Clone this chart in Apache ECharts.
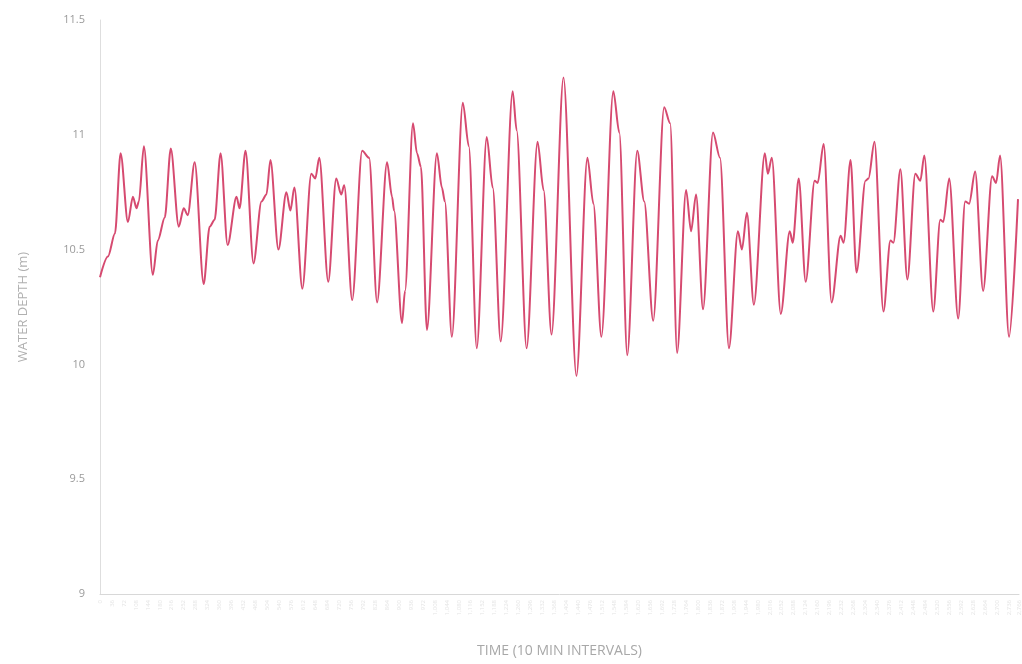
<!DOCTYPE html>
<html>
<head>
<meta charset="utf-8">
<title>Water depth</title>
<script src="https://cdn.jsdelivr.net/npm/echarts@6/dist/echarts.min.js"></script>
<style>
  html, body { margin: 0; padding: 0; background: #ffffff; }
  #chart { width: 1022px; height: 664px; }
</style>
</head>
<body>
<div id="chart"></div>
<script>
// Sample index (10-minute intervals) of each recorded turning point
const intervalIndex = [
  0, 24, 45, 62, 84, 99, 110, 117, 132, 159, 174, 195, 213, 237, 252, 264, 285, 312, 330, 345,
  363, 384, 411, 420, 438, 462, 486, 501, 513, 537, 561, 573, 585, 609, 636, 648, 660, 687, 711, 726,
  735, 759, 789, 810, 834, 864, 879, 885, 909, 918, 942, 954, 966, 984, 1014, 1029, 1038, 1059, 1092, 1110,
  1134, 1164, 1182, 1206, 1242, 1254, 1284, 1317, 1335, 1359, 1395, 1434, 1467, 1485, 1509, 1545, 1563, 1587, 1617, 1638,
  1665, 1698, 1716, 1737, 1764, 1779, 1794, 1815, 1845, 1866, 1893, 1920, 1932, 1947, 1968, 2001, 2010, 2022, 2049, 2076,
  2085, 2103, 2124, 2151, 2160, 2178, 2202, 2229, 2238, 2259, 2277, 2304, 2313, 2331, 2358, 2379, 2388, 2409, 2430, 2454,
  2469, 2481, 2508, 2529, 2538, 2556, 2583, 2604, 2616, 2634, 2658, 2685, 2697, 2709, 2736, 2763
];

// Water depth in metres at each of those samples
const waterDepth = [
  10.38, 10.47, 10.57, 10.92, 10.62, 10.73, 10.68, 10.71, 10.95, 10.39, 10.54, 10.64, 10.94, 10.60, 10.68, 10.65, 10.88, 10.35, 10.60, 10.63,
  10.92, 10.52, 10.73, 10.68, 10.93, 10.44, 10.71, 10.74, 10.89, 10.50, 10.75, 10.67, 10.77, 10.33, 10.83, 10.81, 10.90, 10.36, 10.81, 10.74,
  10.78, 10.28, 10.93, 10.90, 10.27, 10.88, 10.73, 10.67, 10.18, 10.32, 11.05, 10.92, 10.86, 10.15, 10.92, 10.77, 10.71, 10.12, 11.14, 10.95,
  10.07, 10.99, 10.77, 10.10, 11.19, 11.02, 10.07, 10.97, 10.76, 10.13, 11.25, 9.95, 10.90, 10.70, 10.12, 11.19, 11.01, 10.04, 10.93, 10.71,
  10.19, 11.12, 11.05, 10.05, 10.76, 10.58, 10.74, 10.24, 11.01, 10.90, 10.07, 10.58, 10.50, 10.66, 10.26, 10.92, 10.83, 10.90, 10.22, 10.58,
  10.53, 10.81, 10.36, 10.80, 10.79, 10.96, 10.27, 10.56, 10.53, 10.89, 10.40, 10.80, 10.81, 10.97, 10.23, 10.54, 10.53, 10.85, 10.37, 10.83,
  10.80, 10.91, 10.23, 10.63, 10.62, 10.81, 10.20, 10.71, 10.70, 10.84, 10.32, 10.82, 10.79, 10.91, 10.12, 10.72
];

// Depth axis ticks
const depthTicks = [9, 9.5, 10, 10.5, 11, 11.5];

const points = intervalIndex.map((t, i) => [t, waterDepth[i]]);

const chart = echarts.init(document.getElementById('chart'), null, { renderer: 'canvas' });

chart.setOption({
  backgroundColor: '#ffffff',
  animation: false,
  grid: { left: 100, right: 1, top: 20, bottom: 70, containLabel: false },
  xAxis: {
    type: 'value',
    min: 0,
    max: 2766,
    interval: 36,
    name: 'TIME (10 MIN INTERVALS)',
    nameLocation: 'middle',
    nameGap: 50,
    nameTextStyle: { color: '#a8a8a8', fontSize: 14, fontFamily: 'Open Sans' },
    axisLine: { show: true, lineStyle: { color: '#d8d8d8', width: 1 } },
    axisTick: { show: false },
    axisLabel: {
      show: true,
      rotate: 90,
      fontSize: 6,
      color: '#e4e4e4',
      margin: 6,
      fontFamily: 'Open Sans'
    },
    splitLine: { show: false }
  },
  yAxis: {
    type: 'value',
    min: depthTicks[0],
    max: depthTicks[depthTicks.length - 1],
    interval: 0.5,
    name: 'WATER DEPTH (m)',
    nameLocation: 'middle',
    nameGap: 70,
    nameRotate: 90,
    nameTextStyle: { color: '#b0b0b0', fontSize: 13, fontFamily: 'Open Sans' },
    axisLine: { show: true, lineStyle: { color: '#dedede', width: 1 } },
    axisTick: { show: false },
    axisLabel: {
      color: '#9a9a9a',
      fontSize: 11,
      margin: 15,
      fontFamily: 'Open Sans'
    },
    splitLine: { show: false }
  },
  series: [{
    type: 'line',
    data: points,
    showSymbol: false,
    smooth: 0.3,
    smoothMonotone: 'x',
    lineStyle: { color: '#d64a70', width: 2 },
    itemStyle: { color: '#d64a70' }
  }]
});
</script>
</body>
</html>
